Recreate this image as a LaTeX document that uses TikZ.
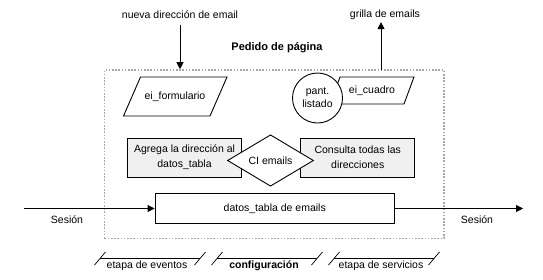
\documentclass[tikz,border=0pt]{standalone}
\usepackage{fontspec}
\setmainfont{Liberation Sans}
\usetikzlibrary{arrows.meta,shapes.geometric}

\tikzset{
	txt/.style={font=\fontsize{10.5}{15}\selectfont, align=center, inner sep=0pt},
	linea/.style={line width=0.9pt},
	flecha/.style={linea, -{Triangle[length=7pt,width=7pt]}},
	marco/.style={draw=black!35, line width=1.6pt, dash pattern=on 1.6pt off 1.6pt},
	caja/.style={txt, draw, linea, fill=black!6, minimum width=114pt, minimum height=39pt},
}

\begin{document}
\begin{tikzpicture}[x=1pt,y=-1pt]
	\useasboundingbox (0,0) rectangle (543,279);

	% pedido de pagina
	\node[marco, minimum width=339.5pt, minimum height=168.5pt] (pedido) at (274.25,154.25) {};
	\node[txt, font=\fontsize{11}{13}\bfseries] (titulo) at (277,48) {Pedido de página};

	% entrada y salida
	\node[txt] (nueva) at (180,15) {nueva dirección de email};
	\node[txt] (grilla) at (385,15) {grilla de emails};
	\draw[flecha, shorten <=6pt] (nueva.south) -- (nueva.south |- pedido.north);
	\coordinate (salida) at (381,70);
	\draw[flecha, shorten >=2pt] (salida) -- (salida |- grilla.south);

	% formularios
	\node[txt] (form) at (175,96.5) {ei\_formulario};
	\draw[linea] ([shift={(-51.5,19.5)}]form.center) -- ++(17,-39) -- ++(86.5,0) -- ++(-17,39) -- cycle;
	\node[txt] (cuadro) at (372,91) {ei\_cuadro};
	\draw[linea] ([shift={(-42,13)}]cuadro.center) -- ++(10,-27) -- ++(74,0) -- ++(-10,27) -- cycle;
	\node[txt, draw, linea, fill=white, circle, minimum size=50pt,
		font=\fontsize{10.5}{13}\selectfont] (listado) at (317.5,98) {pant.\\listado};

	% configuracion
	\node[caja] (agrega) at (184.5,157.5) {Agrega la dirección al\\datos\_tabla};
	\node[caja] (consulta) at (357.75,157.5) {Consulta todas las\\direcciones};
	\node[txt, draw, linea, fill=white, diamond, minimum width=86pt, minimum height=48pt] (ci) at (270.5,160.5) {CI emails};

	% sesion
	\node[txt, draw, linea, fill=white, minimum width=239.5pt, minimum height=30.5pt] (datos) at (274.75,208.5) {datos\_tabla de emails};
	\coordinate (ini) at (24,208.5);
	\coordinate (fin) at (523,208.5);
	\draw[flecha] (ini) -- (datos.west);
	\draw[flecha] (datos.east) -- (fin);
	\node[txt] (sesion1) at (67,220) {Sesión};
	\node[txt] (sesion2) at (477,220) {Sesión};

	% etapas
	\foreach \x/\t [count=\n] in {150/etapa de eventos, 267/\textbf{configuración}, 384/etapa de servicios} {
		\draw[linea] (\x-50,258) -- (\x+50,258);
		\draw[line width=0.7pt] (\x-55.5,265) -- (\x-44.5,252);
		\draw[line width=0.7pt] (\x+44.5,265) -- (\x+55.5,252);
		\node[txt] (etapa\n) at (\x-3,266) {\t};
	}
\end{tikzpicture}
\end{document}
